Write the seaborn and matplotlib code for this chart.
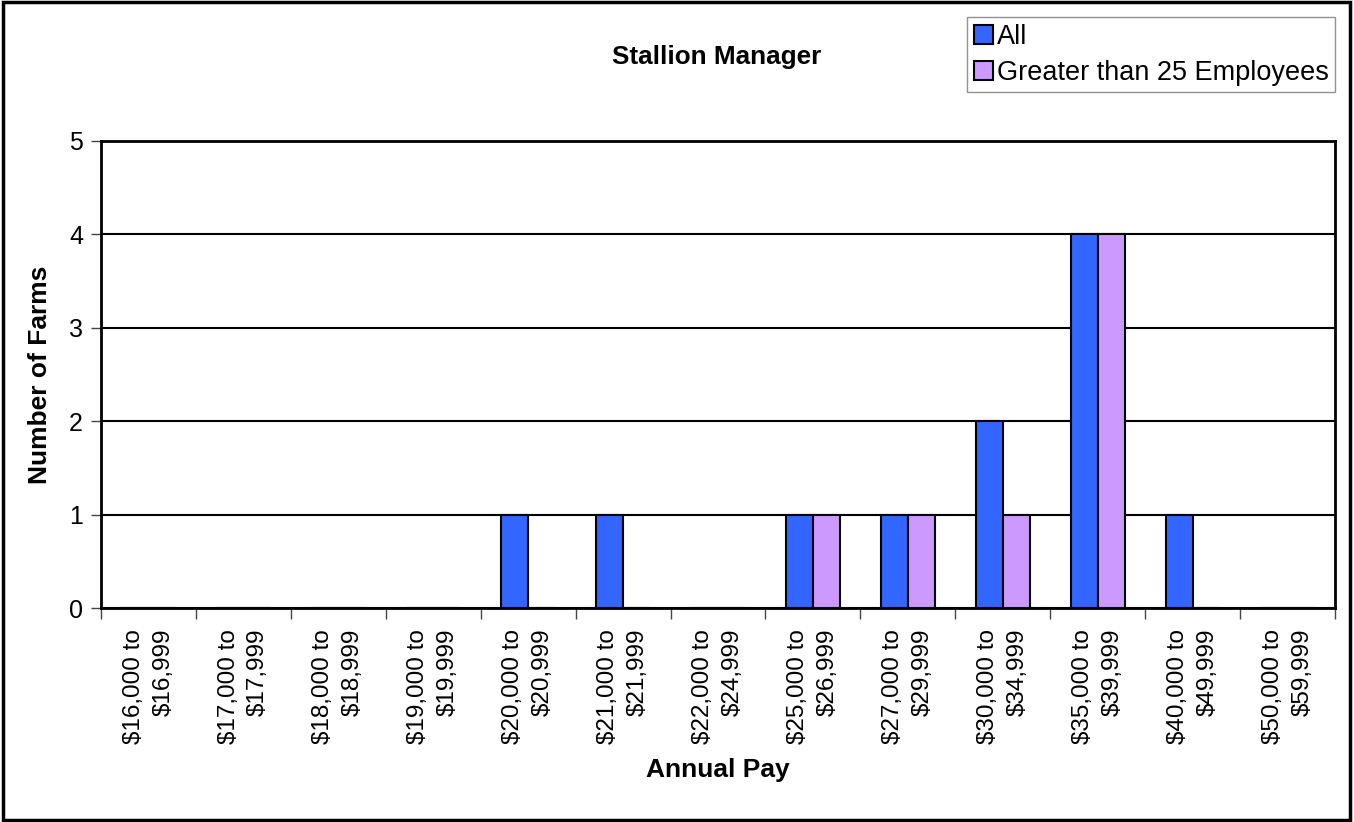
#!/usr/bin/env python3
# -*- coding: utf-8 -*-
"""Stallion Manager - distribución de salario anual."""

import pandas as pd
import numpy as np
import matplotlib
matplotlib.use('Agg')
import matplotlib.pyplot as plt
import seaborn as sns
from matplotlib.patches import Rectangle

# Datos
rangos = ['$16,000 to\n$16,999', '$17,000 to\n$17,999', '$18,000 to\n$18,999',
          '$19,000 to\n$19,999', '$20,000 to\n$20,999', '$21,000 to\n$21,999',
          '$22,000 to\n$24,999', '$25,000 to\n$26,999', '$27,000 to\n$29,999',
          '$30,000 to\n$34,999', '$35,000 to\n$39,999', '$40,000 to\n$49,999',
          '$50,000 to\n$59,999']
todos = [0, 0, 0, 0, 1, 1, 0, 1, 1, 2, 4, 1, 0]
mas_25 = [0, 0, 0, 0, 0, 0, 0, 1, 1, 1, 4, 0, 0]
series = ['All', 'Greater than 25 Employees']
colores = ['#3366FF', '#CC99FF']

sns.set_style('white')
plt.rcParams['font.family'] = ['Liberation Sans', 'DejaVu Sans']
plt.rcParams['text.color'] = 'black'
plt.rcParams['axes.labelcolor'] = 'black'
plt.rcParams['xtick.color'] = 'black'
plt.rcParams['ytick.color'] = 'black'

df = pd.DataFrame({
    'Rango': rangos * 2,
    'Granjas': todos + mas_25,
    'Serie': [series[0]] * len(rangos) + [series[1]] * len(rangos),
})

fig = plt.figure(figsize=(13.54, 8.22), dpi=100)
ax = fig.add_axes([0.0746, 0.2603, 0.9114, 0.5682])

sns.barplot(data=df, x='Rango', y='Granjas', hue='Serie', hue_order=series,
            palette=colores, order=rangos, width=0.57, edgecolor='black',
            linewidth=1.5, saturation=1, ax=ax, zorder=3)

ax.set_ylim(0, 5)
ax.set_xlim(-0.5, len(rangos) - 0.5)
ax.set_yticks(range(6))
ax.yaxis.grid(True, color='black', linewidth=1.5, zorder=0)
ax.set_axisbelow(True)
for s in ax.spines.values():
    s.set_color('black')
    s.set_linewidth(2)

# ticks entre categorías
ax.set_xticks(np.arange(len(rangos)))
ax.set_xticklabels(rangos, rotation=90, ha='center', va='top',
                   multialignment='right', fontsize=17.5, linespacing=1.45)
ax.set_xticks(np.arange(len(rangos) + 1) - 0.5, minor=True)
ax.tick_params(axis='x', which='major', length=0, pad=15)
ax.tick_params(axis='x', which='minor', length=8, width=1, color='#444444',
               direction='out', bottom=True)
ax.tick_params(axis='y', length=7, width=1, color='#444444', direction='out',
               left=True, labelsize=18, pad=6, labelcolor='black')

ax.set_xlabel('Annual Pay', fontsize=19, fontweight='bold', labelpad=10)
ax.set_ylabel('Number of Farms', fontsize=19, fontweight='bold', labelpad=12)
fig.text(0.529, 0.931, 'Stallion Manager', ha='center', va='center',
         fontsize=18.8, fontweight='bold')

ax.legend(loc='upper right', bbox_to_anchor=(0.9862, 0.979),
          bbox_transform=fig.transFigure, fontsize=19.5, frameon=True,
          fancybox=False, edgecolor='#777777', handlelength=0.7,
          handleheight=0.7, handletextpad=0.15, borderpad=0.25,
          labelspacing=0.35, borderaxespad=0)
ax.get_legend().get_frame().set_linewidth(1)

# borde exterior del gráfico
fig.patches.append(Rectangle((0.002, 0.003), 0.995, 0.995,
                             transform=fig.transFigure, fill=False,
                             edgecolor='black', linewidth=2.5))

fig.savefig('out.png', dpi=100, facecolor='white')
